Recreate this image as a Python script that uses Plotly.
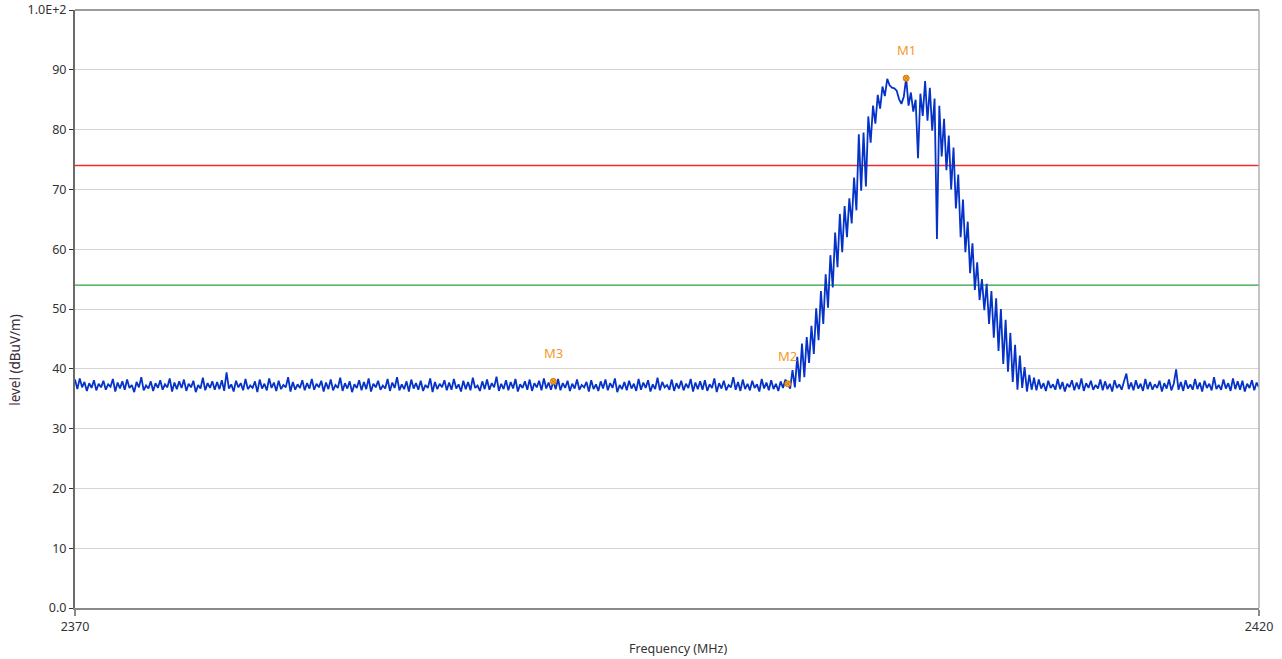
import numpy as np
import plotly.graph_objects as go

# ---------------- data ----------------
F_START, F_STOP = 2370.0, 2420.0

LEVEL_LEFT = [
    38.2, 36.6, 38.4, 36.9, 37.8, 36.3, 37.6, 36.8, 38.1, 36.4, 37.5, 36.9, 38.0, 36.5, 37.4, 37.0, 38.3, 36.2, 37.7, 36.7,
    37.9, 36.5, 38.2, 36.8, 37.3, 36.1, 37.8, 36.9, 38.6, 36.4, 37.2, 36.7, 37.9, 36.3, 37.6, 36.8, 38.1, 36.5, 37.4, 36.9,
    38.4, 36.2, 37.7, 36.6, 37.9, 36.8, 38.2, 36.3, 37.5, 36.9, 38.0, 36.1, 37.3, 36.7, 38.5, 36.4, 37.6, 36.8, 37.9, 36.5,
    37.8, 36.6, 38.1, 36.3, 39.4, 36.7, 37.4, 36.2, 38.0, 36.9, 37.6, 36.4, 38.3, 36.6, 37.2, 36.8, 37.9, 36.1, 38.2, 36.7,
    37.5, 36.4, 38.4, 36.8, 37.7, 36.3, 38.0, 36.6, 37.3, 36.9, 38.6, 36.2, 37.8, 36.5, 37.4, 36.8, 38.1, 36.4, 37.6, 36.7,
    38.3, 36.5, 37.5, 36.9, 38.0, 36.2, 37.7, 36.6, 38.2, 36.4, 37.3, 36.8, 38.5, 36.3, 37.6, 36.7, 37.9, 36.1, 37.4, 36.8,
    38.1, 36.4, 37.8, 36.6, 38.4, 36.2, 37.5, 36.9, 38.0, 36.5, 37.2, 36.7, 38.3, 36.3, 37.7, 36.8, 38.6, 36.4, 37.4, 36.6,
    37.9, 36.2, 38.2, 36.7, 37.6, 36.5, 38.0, 36.3, 37.3, 36.8, 38.4, 36.1, 37.8, 36.6, 37.5, 36.9, 38.1, 36.4, 37.7, 36.5,
    38.3, 36.7, 37.4, 36.2, 38.0, 36.6, 37.8, 36.4, 38.5, 36.8, 37.2, 36.3, 37.9, 36.6, 38.2, 36.5, 37.6, 36.9, 38.7, 36.3,
    37.5, 36.6, 38.1, 36.4, 37.8, 36.7, 38.3, 36.2, 37.4, 36.8, 37.9, 36.5, 38.2, 36.3, 37.6, 36.9, 38.0, 36.4, 38.4, 36.7,
    37.7, 36.5, 37.9, 36.6, 38.3, 36.4, 37.6, 36.8, 38.0, 36.3, 37.5, 36.7, 38.2, 36.5, 37.3, 36.9, 37.8, 36.2, 38.1, 36.6,
    37.4, 36.3, 37.9, 36.7, 38.2, 36.4, 37.6, 36.8, 38.4, 36.1, 37.3, 36.6, 37.8, 36.4, 38.0, 36.7, 37.5, 36.3, 38.3, 36.5,
    37.7, 36.8, 38.1, 36.2, 37.4, 36.6, 38.5, 36.4, 37.8, 36.9, 37.3, 36.5, 38.2, 36.3, 37.6, 36.7, 38.0, 36.4, 37.5, 36.8,
    38.3, 36.2, 37.7, 36.6, 37.9, 36.5, 38.1, 36.3, 37.4, 36.8, 38.4, 36.1, 37.6, 36.7, 38.0, 36.4, 37.3, 36.9, 38.6, 36.5,
    37.8, 36.3, 38.2, 36.6, 37.5, 36.4, 38.0, 36.8, 37.4, 36.2, 38.3, 36.7, 37.7, 36.4, 38.1, 36.6, 37.5, 36.3, 37.9, 36.8,
    38.2, 37.5, 36.7,
]

LEVEL_PEAK = [
    39.8, 36.9, 42.0, 37.8, 44.2, 38.6, 45.3, 41.0, 47.2, 42.5,
    50.1, 44.8, 53.0, 47.5, 55.8, 50.2, 59.0, 53.6, 62.8, 57.0,
    65.9, 59.5, 67.2, 62.0, 68.5, 64.3, 72.0, 66.5, 79.2, 69.8,
    79.5, 70.5, 82.2, 77.8, 84.0, 81.0, 85.8, 83.5, 87.2, 85.6,
    88.5, 87.4, 87.0, 86.9, 86.5, 85.1, 84.3, 85.5, 88.6, 84.0,
    86.2, 83.0, 85.0, 75.2, 86.0, 82.3, 88.1, 81.5, 87.0, 79.8,
    85.2, 61.7, 84.0, 75.5, 81.8, 73.2, 79.0, 70.0, 77.0, 66.8,
    72.5, 62.0, 68.3, 59.5, 64.6, 56.0, 61.0, 53.2, 57.8, 51.5,
    55.0, 49.8, 54.2, 47.5, 53.0, 45.2, 51.8, 43.0, 50.0, 40.8,
    48.2, 39.5, 46.0, 37.8, 44.0, 36.5, 42.2, 36.8, 40.3, 36.2,
    39.0, 36.5, 38.5,
]

LEVEL_RIGHT = [
    36.4, 38.2, 36.7, 37.6, 36.3, 38.0, 36.8, 37.4, 36.5, 38.3, 36.6, 37.8, 36.2, 37.5, 36.9, 38.1, 36.4, 37.7, 36.6, 38.4,
    36.3, 37.6, 36.8, 38.0, 36.5, 37.3, 36.7, 38.2, 36.4, 37.9, 36.6, 37.5, 36.2, 38.1, 36.8, 37.4, 36.5, 37.9, 39.2, 36.6,
    37.7, 36.4, 38.1, 36.7, 37.5, 36.3, 38.3, 36.6, 37.8, 36.5, 37.4, 36.8, 38.0, 36.2, 37.6, 36.7, 38.2, 36.4, 37.5, 39.9,
    36.5, 37.8, 36.3, 38.1, 36.7, 37.4, 36.5, 38.3, 36.6, 37.7, 36.2, 38.0, 36.8, 37.5, 36.4, 38.6, 36.6, 37.3, 36.5, 38.2,
    36.7, 37.6, 36.3, 38.4, 36.6, 37.9, 36.5, 38.0, 36.2, 37.5, 36.8, 38.1, 36.4, 37.7, 36.9,
]

LIMIT_NAMES = ["limit", "reference"]
LIMIT_LEVELS = [74.0, 54.0]
LIMIT_COLORS = ["#f22b2b", "#2aa03a"]

MARKER_NAMES = ["M1", "M2", "M3"]
MARKER_FREQ = [2405.1, 2400.1, 2390.2]
MARKER_LEVEL = [88.6, 37.5, 37.9]

Y_TICKS = [0, 10, 20, 30, 40, 50, 60, 70, 80, 90, 100]
Y_TICKTEXT = ["0.0", "10", "20", "30", "40", "50", "60", "70", "80", "90", "1.0E+2"]
X_TICKS = [2370, 2420]
X_TICKTEXT = ["2370", "2420"]

# ---------------- figure ----------------
level = np.array(LEVEL_LEFT + LEVEL_PEAK + LEVEL_RIGHT)
freq = np.linspace(F_START, F_STOP, len(level))

FONT = "Noto Sans"
TXT = "#333333"

fig = go.Figure()

for name, lv, col in zip(LIMIT_NAMES, LIMIT_LEVELS, LIMIT_COLORS):
    fig.add_trace(go.Scatter(
        x=[F_START, F_STOP], y=[lv, lv], mode="lines",
        line=dict(color=col, width=1.3), hoverinfo="skip", name=name,
    ))

fig.add_trace(go.Scatter(
    x=freq, y=level, mode="lines",
    line=dict(color="#0533c8", width=1.8), name="trace",
))

fig.add_trace(go.Scatter(
    x=MARKER_FREQ, y=MARKER_LEVEL, mode="markers",
    marker=dict(symbol="circle-x", size=6, color="#f7a531",
                line=dict(color="#d97a00", width=1)),
    name="markers",
))

for nm, fx, ly in zip(MARKER_NAMES, MARKER_FREQ, MARKER_LEVEL):
    fig.add_annotation(x=fx, y=ly, text=nm, showarrow=False, yshift=28,
                       font=dict(family=FONT, size=13, color="#f39a2a"))

# axis titles
fig.add_annotation(xref="paper", yref="paper", x=0.509, y=0, yshift=-51,
                   text="Frequency (MHz)", showarrow=False,
                   font=dict(family=FONT, size=12.5, color=TXT))
fig.add_annotation(xref="paper", yref="paper", x=0, xshift=-71, y=0.415,
                   text="level (dBuV/m)", textangle=-90, showarrow=False,
                   font=dict(family=FONT, size=13.5, color="#3a2a3a"))

# frame: top dark, right light
fig.add_shape(type="line", xref="paper", yref="paper", x0=0, x1=1, y0=1, y1=1,
              line=dict(color="#3a3a3a", width=1.2))
fig.add_shape(type="line", xref="paper", yref="paper", x0=1, x1=1, y0=0, y1=1,
              line=dict(color="#b0b0b0", width=1.5))

fig.update_layout(
    width=1282, height=659,
    margin=dict(l=75, r=23, t=10, b=51, autoexpand=False),
    paper_bgcolor="white", plot_bgcolor="white",
    showlegend=False,
    font=dict(family=FONT, size=12, color=TXT),
    xaxis=dict(range=[F_START, F_STOP], tickvals=X_TICKS, ticktext=X_TICKTEXT,
               automargin=False,
               showgrid=False, zeroline=False, showline=True,
               linecolor="#8a8a8a", linewidth=1.5,
               ticks="outside", ticklen=6, tickcolor="#8a8a8a", tickwidth=1.5,
               tickfont=dict(family=FONT, size=12.5, color=TXT)),
    yaxis=dict(range=[0, 100], tickvals=Y_TICKS, ticktext=Y_TICKTEXT,
               automargin=False,
               showgrid=True, gridcolor="#d4d4d4", gridwidth=1,
               zeroline=False, showline=True, linecolor="#6a6a6a", linewidth=2,
               ticks="outside", ticklen=4, tickcolor="#333333", tickwidth=1,
               tickfont=dict(family=FONT, size=12.5, color=TXT)),
)

fig.write_html(
    "out.html",
    config={"displayModeBar": False},
    post_script="document.body.style.margin='0';document.body.style.overflow='hidden';",
)
